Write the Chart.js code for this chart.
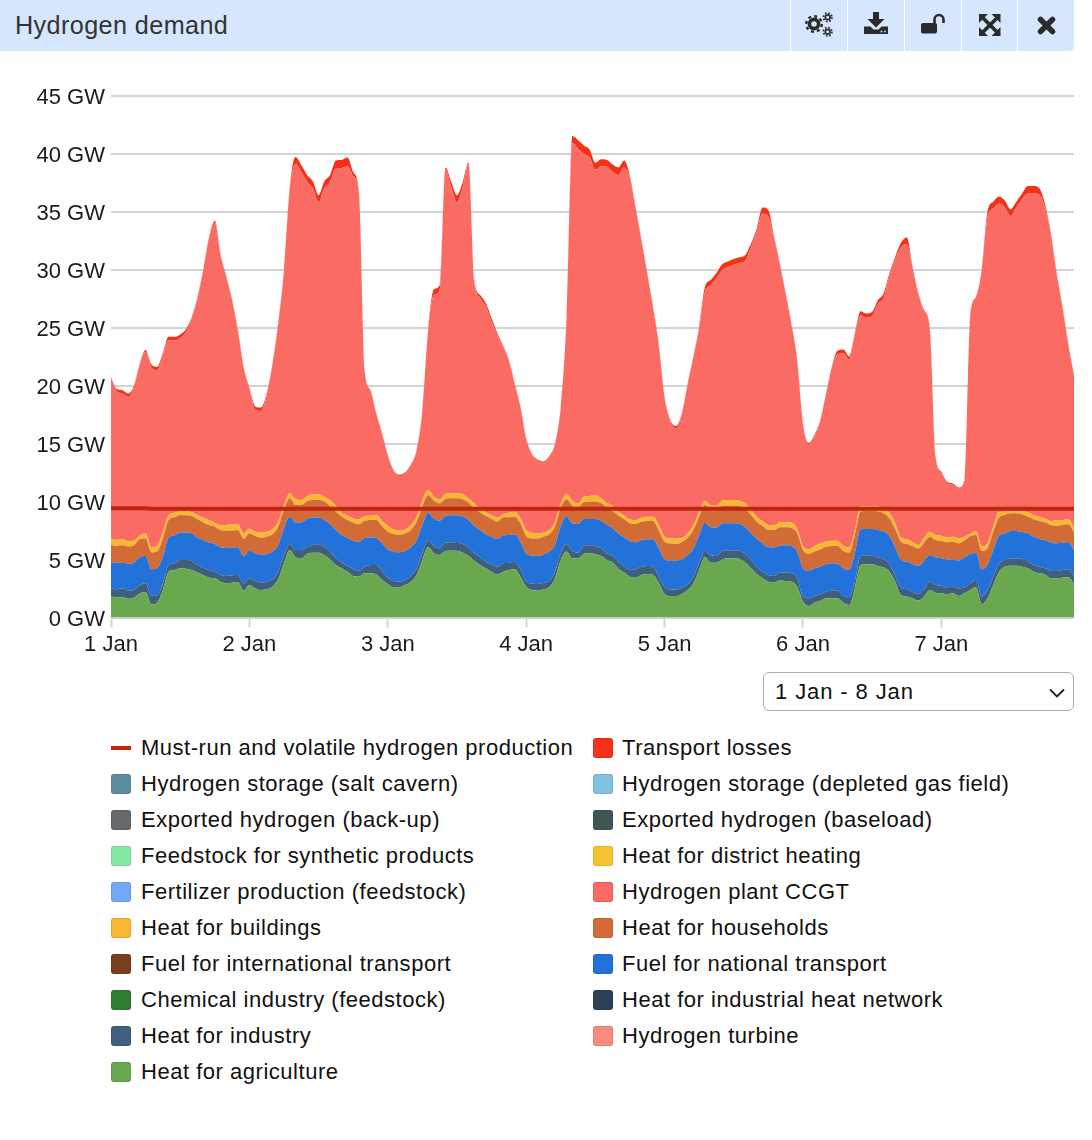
<!DOCTYPE html>
<html>
<head>
<meta charset="utf-8">
<title>Hydrogen demand</title>
<script src="https://cdn.jsdelivr.net/npm/chart.js@4/dist/chart.umd.min.js"></script>
<style>
html,body{margin:0;padding:0;background:#fff;font-family:"Liberation Sans",Arial,sans-serif;color:#111}
#page{position:relative;width:1092px;height:1140px;overflow:hidden}
#head{position:absolute;left:0;top:0;width:1074px;height:51px;background:#d6e6fc;border-bottom-right-radius:5px;z-index:2}
#head h1{position:absolute;left:15px;top:10px;margin:0;font-size:25.2px;line-height:30px;font-weight:400;color:#333;letter-spacing:.4px}
.sep{position:absolute;top:0;width:1px;height:51px;background:#fff}
.ic{position:absolute;top:9px;width:32px;height:32px}
#cw{position:absolute;left:0;top:0;width:1074px;height:662px}
#sel{position:absolute;left:763px;top:672px;width:311px;height:39px;box-sizing:border-box;border:1px solid #adadad;border-radius:6px;background:#fff;font:22px "Liberation Sans",Arial,sans-serif;letter-spacing:.9px;color:#111;padding:0 0 0 11px;appearance:none;-webkit-appearance:none;outline:none;
background-image:url("data:image/svg+xml,%3Csvg xmlns='http://www.w3.org/2000/svg' width='16' height='10'%3E%3Cpath d='M1 1.5 L8 8.5 L15 1.5' fill='none' stroke='%23222' stroke-width='1.8'/%3E%3C/svg%3E");background-repeat:no-repeat;background-position:285px 15px}
.li{position:absolute;font-size:22px;line-height:26px;letter-spacing:.52px;white-space:nowrap;color:#111}
.sw{position:absolute;width:20px;height:20px;border-radius:3px;box-sizing:border-box;border:1px solid rgba(0,0,0,.08)}
.ln{position:absolute;width:20px;height:4px}
</style>
</head>
<body>
<div id="page">
  <div id="cw"><canvas id="c" width="1074" height="662"></canvas></div>
  <div id="head">
    <h1>Hydrogen demand</h1>
    <div class="sep" style="left:790px"></div><div class="sep" style="left:847px"></div><div class="sep" style="left:904px"></div><div class="sep" style="left:961px"></div><div class="sep" style="left:1017px"></div>
    <svg class="ic" style="left:804px" viewBox="0 0 32 32"><g fill="none" stroke="#2b2b2b"><circle cx="10" cy="15" r="4.6" stroke-width="3.6"/><circle cx="10" cy="15" r="7.800" stroke-width="2.4" stroke-dasharray="3 3.120"/><circle cx="23.700" cy="8.300" r="2.400" stroke-width="1.700"/><circle cx="23.700" cy="8.300" r="4.300" stroke-width="1.600" stroke-dasharray="1.700 1.680"/><circle cx="23.700" cy="22.700" r="2.400" stroke-width="1.700"/><circle cx="23.700" cy="22.700" r="4.300" stroke-width="1.600" stroke-dasharray="1.700 1.680"/></g></svg>
    <svg class="ic" style="left:860px" viewBox="0 0 32 32"><path fill="#2b2b2b" d="M13 3h6v7h5.500L16 18.500 7.500 10H13z"/><path fill="#2b2b2b" d="M4 17.500h6.500l3 3h5l3-3H28V25H4z"/><circle cx="21.500" cy="22.500" r=".9" fill="#d6e6fc"/><circle cx="25" cy="22.500" r=".9" fill="#d6e6fc"/></svg>
    <svg class="ic" style="left:917px" viewBox="0 0 32 32"><rect x="4" y="14" width="16" height="10.500" rx="2" fill="#2b2b2b"/><path d="M17.500 15V10.500a4.500 4.500 0 0 1 9 0V14" fill="none" stroke="#2b2b2b" stroke-width="2.600"/></svg>
    <svg class="ic" style="left:974px" viewBox="0 0 32 32"><path d="M9 9L23 23M23 9L9 23" stroke="#2b2b2b" stroke-width="3.800" fill="none"/><g fill="#2b2b2b"><path d="M5 5h9l-9 9z"/><path d="M26.500 5v9l-9-9z"/><path d="M5 27v-9l9 9z"/><path d="M26.500 27h-9l9-9z"/></g></svg>
    <svg class="ic" style="left:1030px" viewBox="0 0 32 32"><path d="M10.500 10.500L22.500 22.500M22.500 10.500L10.500 22.500" stroke="#2b2b2b" stroke-width="5.500" stroke-linecap="round" fill="none"/></svg>
  </div>
  <select id="sel"><option>1 Jan - 8 Jan</option></select>
  <div id="legend"></div>
</div>
<script>
const dayLabels = ["1 Jan","2 Jan","3 Jan","4 Jan","5 Jan","6 Jan","7 Jan"];
const yTicks = [0,5,10,15,20,25,30,35,40,45];

const mustRun = [
9.42,9.42,9.42,9.42,9.42,9.42,9.42,9.38,9.38,9.38,9.38,9.38,9.38,9.38,9.38,9.38,9.38,9.38,9.38,9.38,9.38,9.38,9.38,9.38,
9.38,9.38,9.38,9.38,9.38,9.38,9.38,9.38,9.38,9.38,9.38,9.38,9.38,9.38,9.38,9.38,9.38,9.38,9.38,9.38,9.38,9.38,9.38,9.38,
9.38,9.38,9.38,9.38,9.38,9.38,9.38,9.38,9.38,9.38,9.38,9.38,9.38,9.38,9.38,9.38,9.38,9.38,9.38,9.38,9.38,9.38,9.38,9.38,
9.38,9.38,9.38,9.38,9.38,9.38,9.38,9.38,9.38,9.38,9.38,9.38,9.38,9.38,9.38,9.38,9.38,9.38,9.38,9.38,9.38,9.38,9.38,9.38,
9.38,9.38,9.38,9.38,9.38,9.38,9.38,9.38,9.38,9.38,9.38,9.38,9.38,9.38,9.38,9.38,9.38,9.38,9.38,9.38,9.38,9.38,9.38,9.38,
9.38,9.38,9.38,9.38,9.38,9.38,9.38,9.38,9.38,9.38,9.38,9.38,9.38,9.38,9.38,9.38,9.38,9.38,9.38,9.38,9.38,9.38,9.38,9.38,
9.38,9.38,9.38,9.38,9.38,9.38,9.38,9.38,9.38,9.38,9.38,9.38,9.38,9.38,9.38,9.38,9.38,9.38,9.38,9.38,9.38,9.38,9.38,9.38];

const agriculture = [
1.80,1.74,1.74,1.62,1.71,2.08,2.20,1.14,1.28,2.37,3.95,4.10,4.24,4.21,4.10,3.89,3.66,3.43,3.38,3.09,2.95,3.00,3.06,2.31,
2.80,2.51,2.37,2.43,2.66,3.29,4.67,5.82,5.19,5.10,5.47,5.59,5.59,5.39,5.01,4.53,4.24,3.95,3.58,3.52,3.81,3.81,3.72,3.23,
2.89,2.57,2.60,2.80,3.09,3.66,4.96,6.05,5.53,5.39,5.73,5.76,5.76,5.59,5.30,4.90,4.53,4.24,3.95,3.72,3.95,4.10,4.15,3.52,
2.66,2.37,2.31,2.43,2.60,3.38,4.96,5.68,5.10,5.10,5.47,5.53,5.45,5.30,4.96,4.73,4.21,3.87,3.52,3.43,3.66,3.75,3.66,2.95,
2.03,1.85,1.85,2.03,2.37,2.95,4.10,5.19,4.73,4.73,5.01,5.10,5.10,5.04,4.73,4.24,3.75,3.38,3.09,3.00,3.18,3.15,3.09,2.66,
1.37,0.99,1.28,1.42,1.65,1.65,1.65,1.28,1.08,2.51,4.53,4.58,4.58,4.44,4.30,3.95,3.09,1.94,1.80,1.65,1.45,1.80,2.37,2.14,
2.08,2.00,2.08,1.85,2.08,2.37,2.60,1.14,1.65,2.80,3.95,4.38,4.47,4.47,4.38,4.24,3.95,3.81,3.69,3.38,3.38,3.43,3.46,2.89];

const heatIndustry = [
.72,.69,.75,.69,.66,.72,.75,.72,.63,.57,.57,.57,.72,.75,.78,.63,.63,.66,.57,.57,.63,.63,.63,.63,
.57,.63,.63,.66,.63,.66,.72,.52,.63,.72,.63,.66,.69,.72,.66,.57,.49,.52,.60,.52,.57,.72,.80,.78,
.55,.57,.49,.43,.49,.57,.57,.63,.63,.57,.72,.72,.75,.75,.75,.63,.66,.57,.63,.66,.72,.63,.66,.66,
.43,.57,.57,.57,.55,.57,.57,.66,.63,.49,.69,.66,.69,.66,.57,.57,.57,.57,.57,.72,.72,.69,.72,.57,
.57,.57,.57,.55,.52,.57,.57,.57,.63,.57,.72,.69,.69,.72,.75,.72,.63,.57,.57,.57,.69,.72,.72,.72,
.43,.66,.57,.60,.57,.66,.66,.60,.66,.57,.78,.75,.75,.75,.72,.66,.49,.66,.63,.57,.57,.63,.72,.66,
.66,.60,.57,.66,.52,.57,.63,.66,.72,.72,.66,.57,.63,.63,.66,.63,.57,.57,.55,.66,.63,.66,.69,.69];

const nationalTransport = [
2.24,2.30,2.24,2.33,2.36,2.39,2.36,2.30,2.33,2.30,2.36,2.39,2.36,2.36,2.36,2.36,2.39,2.36,2.39,2.39,2.41,2.41,2.36,2.36,
2.39,2.39,2.39,2.36,2.39,2.30,2.30,2.36,2.36,2.36,2.41,2.36,2.33,2.30,2.39,2.44,2.39,2.41,2.44,2.47,2.47,2.36,2.33,2.39,
2.44,2.53,2.53,2.50,2.47,2.44,2.44,2.36,2.36,2.39,2.30,2.33,2.30,2.36,2.36,2.36,2.36,2.36,2.39,2.39,2.39,2.39,2.36,2.36,
2.44,2.39,2.44,2.44,2.53,2.30,2.36,2.36,2.39,2.47,2.33,2.30,2.36,2.39,2.44,2.39,2.47,2.47,2.50,2.33,2.30,2.30,2.36,2.44,
2.41,2.47,2.47,2.44,2.50,2.41,2.44,2.41,2.41,2.44,2.39,2.33,2.33,2.30,2.30,2.30,2.39,2.44,2.39,2.47,2.33,2.36,2.36,2.30,
2.44,2.36,2.39,2.36,2.39,2.36,2.33,2.36,2.36,2.44,2.30,2.30,2.30,2.36,2.39,2.41,2.47,2.36,2.39,2.39,2.41,2.47,2.30,2.39,
2.36,2.41,2.36,2.39,2.59,2.53,2.36,2.36,2.16,2.30,2.44,2.30,2.36,2.36,2.33,2.39,2.44,2.39,2.44,2.41,2.39,2.36,2.33,2.24];

const households = [
1.49,1.44,1.49,1.47,1.49,1.55,1.49,1.44,1.44,1.58,1.52,1.58,1.52,1.49,1.52,1.58,1.52,1.52,1.49,1.49,1.49,1.47,1.49,1.47,
1.49,1.49,1.49,1.52,1.49,1.58,1.58,1.58,1.52,1.52,1.52,1.52,1.52,1.58,1.55,1.58,1.58,1.52,1.55,1.52,1.49,1.52,1.55,1.49,
1.52,1.52,1.49,1.52,1.49,1.58,1.58,1.49,1.55,1.49,1.47,1.47,1.47,1.49,1.49,1.52,1.52,1.58,1.52,1.49,1.55,1.52,1.52,1.58,
1.49,1.49,1.49,1.52,1.49,1.58,1.52,1.49,1.52,1.44,1.44,1.49,1.47,1.49,1.49,1.49,1.52,1.55,1.52,1.58,1.58,1.58,1.58,1.52,
1.52,1.49,1.44,1.49,1.49,1.61,1.58,1.52,1.49,1.47,1.52,1.52,1.52,1.55,1.58,1.58,1.49,1.49,1.49,1.49,1.58,1.55,1.55,1.58,
1.58,1.47,1.44,1.49,1.49,1.49,1.52,1.49,1.49,1.58,1.52,1.58,1.58,1.58,1.58,1.52,1.55,1.58,1.52,1.55,1.52,1.55,1.58,1.49,
1.49,1.47,1.52,1.49,1.44,1.55,1.52,1.58,1.44,1.58,1.55,1.58,1.52,1.52,1.52,1.44,1.52,1.55,1.52,1.52,1.49,1.52,1.55,1.52];

const buildings = [
.57,.52,.52,.46,.40,.32,.46,.46,.49,.57,.43,.40,.29,.32,.32,.37,.40,.43,.34,.40,.49,.52,.49,.49,
.43,.37,.43,.43,.46,.43,.43,.43,.49,.43,.43,.49,.49,.43,.52,.52,.34,.37,.37,.43,.40,.37,.43,.46,
.49,.40,.37,.34,.43,.43,.52,.46,.34,.34,.43,.43,.43,.43,.37,.43,.26,.32,.34,.34,.32,.40,.43,.43,
.52,.49,.43,.37,.37,.43,.43,.46,.43,.34,.49,.49,.57,.43,.43,.43,.34,.32,.34,.34,.34,.37,.37,.49,
.43,.43,.49,.37,.37,.43,.43,.37,.43,.43,.43,.49,.49,.46,.49,.43,.43,.43,.43,.43,.43,.43,.46,.34,
.34,.40,.49,.52,.46,.46,.46,.43,.46,.43,.49,.40,.40,.43,.34,.49,.52,.34,.40,.37,.29,.43,.43,.43,
.46,.43,.43,.43,.34,.17,.37,.37,.43,.43,.52,.29,.17,.17,.26,.37,.34,.37,.34,.34,.52,.43,.43,.43];

const transportLosses = [
.10,.20,.30,.30,.15,.10,.15,.25,.30,.15,.30,.30,.30,.25,.10,.10,.10,.10,.15,.10,.10,.10,.10,.10,
.15,.30,.30,.15,.10,.10,.10,.15,.60,.60,.60,.60,.60,.60,.60,.70,.70,.75,.35,.10,.05,.10,.10,.10,
.10,.10,.10,.10,.10,.10,.10,.10,.50,.50,.15,.45,.60,.45,.10,.15,.25,.30,.30,.20,.15,.10,.15,.10,
.10,.10,.10,.10,.10,.10,.10,.10,.60,.75,.75,.70,.60,.60,.60,.65,.65,.60,.20,.10,.10,.10,.10,.10,
.10,.10,.20,.10,.10,.10,.10,.45,.45,.50,.50,.50,.50,.50,.50,.30,.20,.55,.55,.15,.10,.10,.10,.10,
.10,.15,.10,.10,.10,.10,.30,.35,.30,.10,.35,.35,.35,.30,.40,.20,.20,.40,.55,.10,.10,.10,.10,.10,
.10,.10,.10,.10,.10,.10,.10,.10,.50,.60,.60,.60,.60,.50,.50,.65,.65,.55,.30,.10,.10,.10,.10,.10];

/* top edge of the whole stack; the CCGT band is what remains between it and the layers below */
const totalDemand = [
20.7,19.7,19.6,19.3,20.0,21.9,23.05,21.8,21.6,22.8,24.2,24.2,24.4,24.85,25.9,27.6,30.0,32.8,34.2,31.3,29.4,27.4,24.8,21.6,
19.8,18.2,18.1,19.3,21.9,25.4,30.0,37.1,39.7,39.0,38.15,37.6,36.4,37.6,38.15,39.4,39.45,39.65,38.4,36.6,21.3,19.6,17.6,15.9,
14.0,12.7,12.3,12.5,13.2,14.45,17.9,24.8,28.3,28.65,38.8,37.55,36.4,37.55,39.2,29.1,27.8,27.1,25.8,24.5,23.4,22.2,20.2,18.2,
15.45,14.1,13.6,13.45,13.9,15.0,18.2,25.9,41.5,41.15,40.7,40.35,39.2,39.5,39.45,39.05,38.8,39.4,38.0,35.3,32.55,29.7,26.8,23.5,
19.0,17.0,16.5,17.6,20.2,22.5,25.1,28.5,29.1,29.7,30.45,30.7,30.9,31.05,31.25,32.25,33.55,35.35,35.1,32.8,30.5,27.95,25.35,22.2,
16.75,15.05,15.75,17.0,19.3,21.6,23.0,23.1,22.5,24.5,26.4,26.2,26.35,27.35,27.95,29.7,31.1,32.3,32.75,30.25,27.95,26.5,24.9,13.85,
12.55,11.7,11.55,11.2,11.9,26.0,27.65,30.0,35.0,35.85,36.3,35.95,35.2,35.85,36.55,37.2,37.2,37.0,35.55,33.1,29.7,26.8,23.65,20.9];

const hourLabels = [];
dayLabels.forEach(d => { for (let h = 0; h < 24; h++) hourLabels.push(d + " " + String(h).padStart(2,"0") + ":00"); });

const ccgt = totalDemand.map((t,i) => +(t - transportLosses[i] - buildings[i] - households[i] - nationalTransport[i] - heatIndustry[i] - agriculture[i]).toFixed(2));

const stackSeries = [
  ["Heat for agriculture", "#69a84f", agriculture],
  ["Hydrogen turbine", "#f88a80", []],
  ["Heat for industry", "#3f5f7d", heatIndustry],
  ["Heat for industrial heat network", "#2a4156", []],
  ["Chemical industry (feedstock)", "#2f7d32", []],
  ["Fuel for national transport", "#2272d9", nationalTransport],
  ["Fuel for international transport", "#7a3f1d", []],
  ["Heat for households", "#d26b36", households],
  ["Heat for buildings", "#f6b732", buildings],
  ["Hydrogen plant CCGT", "#f96b63", ccgt],
  ["Fertilizer production (feedstock)", "#72a8f8", []],
  ["Heat for district heating", "#f4c430", []],
  ["Feedstock for synthetic products", "#85e8a0", []],
  ["Exported hydrogen (baseload)", "#415456", []],
  ["Exported hydrogen (back-up)", "#666a6c", []],
  ["Hydrogen storage (depleted gas field)", "#82c0e0", []],
  ["Hydrogen storage (salt cavern)", "#5b8fa0", []],
  ["Transport losses", "#f53218", transportLosses]
];
const lineName = "Must-run and volatile hydrogen production";
const lineColor = "#c0260f";

const legendOrder = [
  lineName, "Transport losses",
  "Hydrogen storage (salt cavern)", "Hydrogen storage (depleted gas field)",
  "Exported hydrogen (back-up)", "Exported hydrogen (baseload)",
  "Feedstock for synthetic products", "Heat for district heating",
  "Fertilizer production (feedstock)", "Hydrogen plant CCGT",
  "Heat for buildings", "Heat for households",
  "Fuel for international transport", "Fuel for national transport",
  "Chemical industry (feedstock)", "Heat for industrial heat network",
  "Heat for industry", "Hydrogen turbine",
  "Heat for agriculture"
];

const FONT = '"Liberation Sans", Arial, sans-serif';
const datasets = [{
  label: lineName, data: mustRun, stack: "line", borderColor: lineColor, borderWidth: 4,
  fill: false, pointRadius: 0, tension: 0, borderCapStyle: "butt"
}];
stackSeries.forEach((s,i) => datasets.push({
  label: s[0], data: s[2], stack: "demand", hidden: s[2].length === 0,
  backgroundColor: s[1], borderColor: s[1], borderWidth: 0,
  fill: i === 0 ? "origin" : "-1", pointRadius: 0, cubicInterpolationMode: "monotone"
}));

new Chart(document.getElementById("c"), {
  type: "line",
  data: { labels: hourLabels, datasets },
  options: {
    responsive: false, animation: false, events: [],
    layout: { padding: { top: 95.5, right: 0, left: 0, bottom: 0 } },
    plugins: { legend: { display: false }, tooltip: { enabled: false } },
    scales: {
      x: {
        type: "category", offset: false, stacked: true,
        afterBuildTicks: s => { s.ticks = s.ticks.filter(t => t.value % 24 === 0); },
        afterFit: s => { s.height = 662 - 617.5; },
        grid: { display: true, drawOnChartArea: false, drawTicks: true, tickLength: 10, tickColor: "#d4d4d4", tickWidth: 2 },
        border: { display: false },
        ticks: {
          autoSkip: false, maxRotation: 0, minRotation: 0, padding: 4, color: "#1a1a1a",
          font: { family: FONT, size: 22 },
          callback: v => dayLabels[v / 24]
        }
      },
      y: {
        stacked: true, min: 0, max: 45,
        afterFit: s => { s.width = 111; },
        afterBuildTicks: s => { s.ticks = yTicks.map(v => ({ value: v })); },
        grid: { color: "#d4d4d4", lineWidth: 2, drawTicks: false },
        border: { display: false },
        /* the empty first line moves the label about 2px down onto the reference position */
        ticks: { padding: 6, color: "#1a1a1a", font: { family: FONT, size: 22, lineHeight: 0.18 }, callback: v => ["", v + " GW"] }
      }
    }
  }
});

const colorOf = {}; stackSeries.forEach(s => colorOf[s[0]] = s[1]);
const lg = document.getElementById("legend");
legendOrder.forEach((name,i) => {
  const col = i % 2, row = Math.floor(i / 2);
  const cy = 747.5 + row * 36;
  const sx = col ? 593 : 111, tx = col ? 622 : 141;
  const m = document.createElement("div");
  if (name === lineName) { m.className = "ln"; m.style.cssText = `left:${sx}px;top:${cy-2}px;background:${lineColor}`; }
  else { m.className = "sw"; m.style.cssText = `left:${sx}px;top:${cy-10}px;background:${colorOf[name]}`; }
  lg.appendChild(m);
  const t = document.createElement("div");
  t.className = "li"; t.textContent = name; t.style.left = tx + "px"; t.style.top = (cy - 13) + "px";
  lg.appendChild(t);
});
</script>
</body>
</html>
